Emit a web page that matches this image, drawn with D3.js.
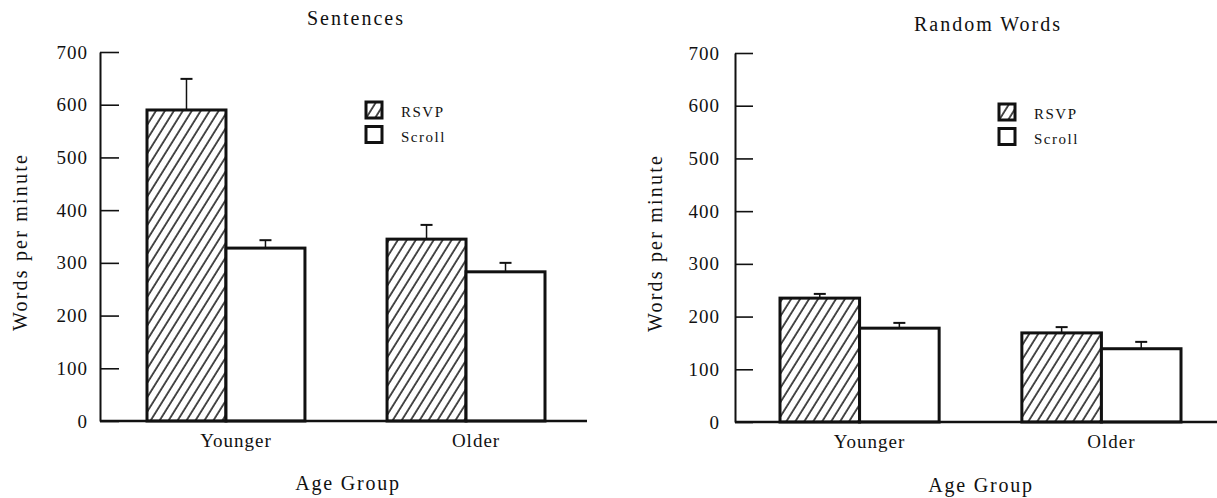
<!DOCTYPE html>
<html>
<head>
<meta charset="utf-8">
<script src="https://cdn.jsdelivr.net/npm/d3@7"></script>
<style>
  html, body { margin: 0; padding: 0; background: #fff; }
  svg { display: block; }
  svg text { font-family: "Liberation Serif", "Times New Roman", serif !important; fill: #111; }
</style>
</head>
<body>
<svg id="chart" width="1217" height="498"></svg>
<script>
// ---- data ----
const groups = ["Younger", "Older"];
const seriesNames = ["RSVP", "Scroll"];
const yTicks = [0, 100, 200, 300, 400, 500, 600, 700];

const sentencesRSVP = [590, 345];
const sentencesScroll = [328, 283];
const sentencesRSVPErr = [59, 27];
const sentencesScrollErr = [15, 17];

const randomRSVP = [235, 169];
const randomScroll = [178, 139];
const randomRSVPErr = [8, 11];
const randomScrollErr = [10, 13];

const panelTitles = ["Sentences", "Random Words"];
const yTitle = "Words per minute";
const xTitle = "Age Group";

// ---- drawing ----
const SERIF = '"Liberation Serif", "Times New Roman", serif';
const svg = d3.select("#chart");
const defs = svg.append("defs");
const pat = defs.append("pattern")
  .attr("id", "hatch")
  .attr("patternUnits", "userSpaceOnUse")
  .attr("width", 7.6).attr("height", 10)
  .attr("patternTransform", "rotate(32)");
pat.append("rect").attr("width", 7.6).attr("height", 10).attr("fill", "#fff");
pat.append("line").attr("x1", 1).attr("x2", 1).attr("y1", -1).attr("y2", 11)
  .attr("stroke", "#111").attr("stroke-width", 1.5);

const fills = ["url(#hatch)", "#fff"];

function drawPanel(cfg) {
  const g = svg.append("g");
  const y = d3.scaleLinear().domain([0, 700]).range([cfg.y0, cfg.y700]);
  const x0 = d3.scaleBand().domain(groups).range(cfg.bandRange).paddingInner(0.342).paddingOuter(0);
  const x1 = d3.scaleBand().domain(seriesNames).range([0, x0.bandwidth()]).padding(0);

  // title
  g.append("text").attr("x", cfg.titleX).attr("y", cfg.titleY)
    .attr("text-anchor", "middle").style("font-size", "20px").style("letter-spacing", "2px")
    .text(cfg.title);

  // y axis
  const yAxis = d3.axisLeft(y).tickValues(yTicks).tickSizeInner(-cfg.tickLen).tickSizeOuter(0)
    .tickPadding(cfg.tickPad).tickFormat(d3.format("d"));
  const ya = g.append("g").attr("transform", `translate(${cfg.axisX},0)`).call(yAxis)
    .attr("font-family", SERIF).attr("font-size", null);
  ya.select(".domain").attr("stroke", "#111").attr("stroke-width", 2);
  ya.selectAll(".tick line").attr("stroke", "#111").attr("stroke-width", 1.6);
  ya.selectAll(".tick text").style("font-family", SERIF).style("font-size", "19px")
    .style("letter-spacing", "1px").attr("fill", "#111");

  // y title
  g.append("text")
    .attr("transform", `translate(${cfg.axisX - 73},${cfg.yTitleY}) rotate(-90)`)
    .attr("text-anchor", "middle").style("font-size", "20px").style("letter-spacing", "2.2px")
    .text(yTitle);

  // bars
  const rows = groups.map((gname, i) => seriesNames.map((s, j) => ({
    group: gname, series: s, j,
    value: cfg.values[j][i], err: cfg.errs[j][i]
  }))).flat();

  const bars = g.append("g");
  bars.selectAll("rect").data(rows).join("rect")
    .attr("x", d => x0(d.group) + x1(d.series))
    .attr("y", d => y(d.value))
    .attr("width", x1.bandwidth())
    .attr("height", d => y(0) - y(d.value))
    .attr("fill", d => fills[d.j])
    .attr("stroke", "#111").attr("stroke-width", 3);

  // error bars
  const cx = d => x0(d.group) + x1(d.series) + x1.bandwidth() / 2;
  const eb = g.append("g").attr("stroke", "#111").attr("stroke-width", 1.5);
  eb.selectAll("line.v").data(rows).join("line").attr("class", "v")
    .attr("x1", cx).attr("x2", cx)
    .attr("y1", d => y(d.value))
    .attr("y2", d => y(d.value + d.err));
  eb.selectAll("line.c").data(rows).join("line").attr("class", "c")
    .attr("x1", d => cx(d) - 6)
    .attr("x2", d => cx(d) + 6)
    .attr("y1", d => y(d.value + d.err))
    .attr("y2", d => y(d.value + d.err))
    .attr("stroke-width", 2);

  // x axis
  g.append("line").attr("x1", cfg.axisX).attr("x2", cfg.xEnd)
    .attr("y1", y(0)).attr("y2", y(0))
    .attr("stroke", "#111").attr("stroke-width", 2.5);
  const xAxis = d3.axisBottom(x0).tickSize(0).tickPadding(0);
  const xa = g.append("g").attr("transform", `translate(0,${y(0)})`).call(xAxis)
    .attr("font-family", SERIF).attr("font-size", null);
  xa.select(".domain").remove();
  xa.selectAll(".tick text").attr("dx", 10).attr("dy", null).attr("y", 26)
    .style("font-family", SERIF).style("font-size", "19px").style("letter-spacing", "1px")
    .attr("fill", "#111");

  // x title
  g.append("text").attr("x", cfg.xTitleX).attr("y", cfg.xTitleY)
    .attr("text-anchor", "middle").style("font-size", "20px").style("letter-spacing", "1.8px")
    .text(xTitle);

  // legend
  const lg = g.append("g").attr("transform", `translate(${cfg.legendX},${cfg.legendY})`);
  seriesNames.forEach((s, j) => {
    lg.append("rect").attr("x", 0).attr("y", j * 24.5).attr("width", 16).attr("height", 16)
      .attr("fill", fills[j]).attr("stroke", "#111").attr("stroke-width", 3);
    lg.append("text").attr("x", 35).attr("y", j * 24.5 + 15)
      .style("font-size", "15px").style("letter-spacing", "1.5px").text(s);
  });
}

drawPanel({
  title: panelTitles[0], titleX: 356, titleY: 25,
  axisX: 100, xEnd: 587, y0: 421, y700: 52,
  bandRange: [147, 545], tickLen: 19, tickPad: 12, yTitleY: 242,
  values: [sentencesRSVP, sentencesScroll], errs: [sentencesRSVPErr, sentencesScrollErr],
  xTitleX: 348, xTitleY: 490, legendX: 366, legendY: 102
});

drawPanel({
  title: panelTitles[1], titleX: 988, titleY: 31,
  axisX: 735, xEnd: 1217, y0: 422, y700: 53,
  bandRange: [780, 1181], tickLen: 18, tickPad: 15, yTitleY: 243,
  values: [randomRSVP, randomScroll], errs: [randomRSVPErr, randomScrollErr],
  xTitleX: 981, xTitleY: 492, legendX: 999, legendY: 104
});
</script>
</body>
</html>
